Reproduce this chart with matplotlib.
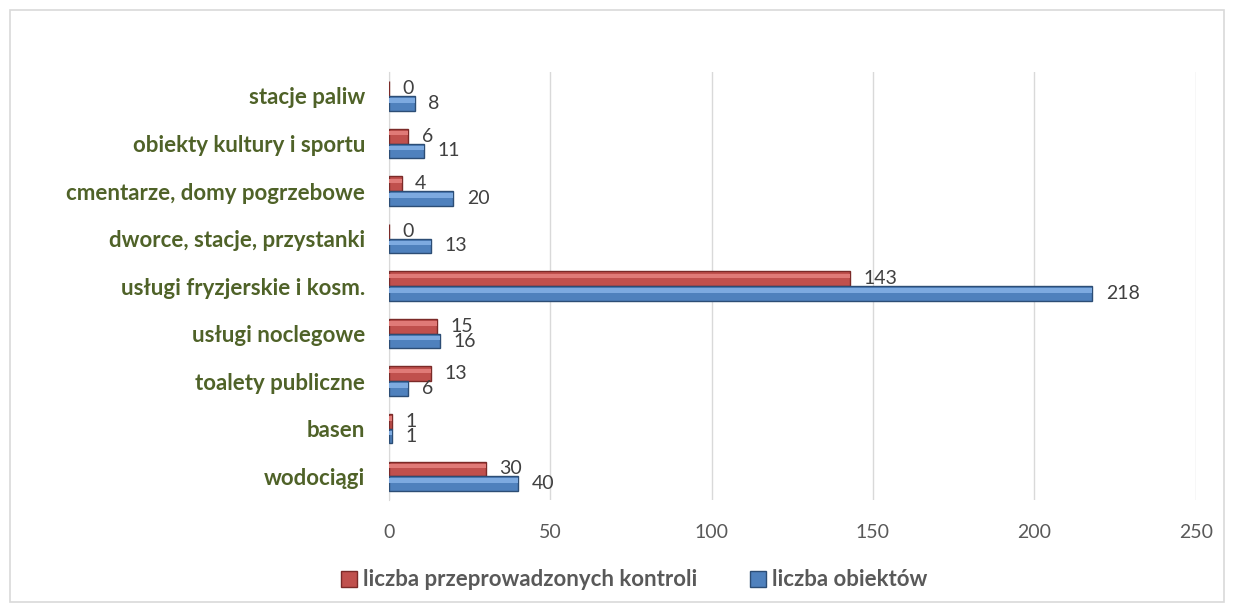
import matplotlib.pyplot as plt
import numpy as np
from matplotlib.patches import Rectangle

categories = ["wodociągi", "basen", "toalety publiczne", "usługi noclegowe",
              "usługi fryzjerskie i kosm.", "dworce, stacje, przystanki",
              "cmentarze, domy pogrzebowe", "obiekty kultury i sportu", "stacje paliw"]
kontrole = [30, 1, 13, 15, 143, 0, 4, 6, 0]
obiekty = [40, 1, 6, 16, 218, 13, 20, 11, 8]
xticks = [0, 50, 100, 150, 200, 250]
series_names = ["liczba przeprowadzonych kontroli", "liczba obiektów"]

plt.rcParams['font.family'] = ['Lato', 'DejaVu Sans']

fig = plt.figure(figsize=(12.34, 6.12), dpi=100)
renderer = fig.canvas.get_renderer()


def fit_size(text, target_px, weight="normal"):
    # font size that gives the wanted pixel width
    t = fig.text(0, 0, text, fontsize=10, fontweight=weight)
    w = t.get_window_extent(renderer).width
    t.remove()
    return 10 * target_px / w


legend_fs = fit_size(series_names[0], 334, "bold")
tick_fs = fit_size("250", 34)
value_fs = fit_size("218", 34)
cat_fs = legend_fs

ax = fig.add_axes([0.315, 0.183, 0.654, 0.699])

y = np.arange(len(categories))
h = 0.31


def bevel_bars(ypos, vals, face, light, dark):
    ax.barh(ypos, vals, height=h, color=face, edgecolor=dark, linewidth=1.0, zorder=3)
    # lighter strip on top to imitate the bevel
    ax.barh(ypos + h * 0.2, vals, height=h * 0.3, color=light, linewidth=0, zorder=4)


bevel_bars(y + h / 2, kontrole, "#C0504D", "#E07A77", "#7B2A28")
bevel_bars(y - h / 2, obiekty, "#4F81BD", "#7DAAE0", "#2C4D75")

for yi, v in zip(y, kontrole):
    ax.text(v + 4.2, yi + h / 2, str(v), va="center", ha="left", fontsize=value_fs, color="#404040")
for yi, v in zip(y, obiekty):
    ax.text(v + 4.2, yi - h / 2, str(v), va="center", ha="left", fontsize=value_fs, color="#404040")

ax.set_xlim(0, 250)
ax.set_ylim(-0.5, len(categories) - 0.5)
ax.set_xticks(xticks)
ax.set_xticklabels([str(t) for t in xticks], fontsize=tick_fs, color="#595959")
ax.set_yticks(y)
ax.set_yticklabels(categories, fontsize=cat_fs, fontweight="bold", color="#4F6228")
ax.tick_params(axis="both", length=0)
ax.tick_params(axis="x", pad=17)
ax.tick_params(axis="y", pad=17)
ax.grid(axis="x", color="#D9D9D9", linewidth=1.0, zorder=0)
for s in ["top", "right", "bottom"]:
    ax.spines[s].set_visible(False)
ax.spines["left"].set_color("#D9D9D9")

# legend
handles = [Rectangle((0, 0), 1, 1, facecolor="#C0504D", edgecolor="#7B2A28"),
           Rectangle((0, 0), 1, 1, facecolor="#4F81BD", edgecolor="#2C4D75")]
leg = fig.legend(handles, series_names,
                 loc="center", bbox_to_anchor=(634 / 1234, 1 - 580 / 612), ncol=2, frameon=False,
                 handlelength=0.72, handleheight=0.72, handletextpad=0.25, columnspacing=2.4,
                 prop={"size": legend_fs, "weight": "bold"})
for t in leg.get_texts():
    t.set_color("#595959")
    t.set_fontweight("bold")

# chart border
fig.patches.append(Rectangle((10 / 1234, 10 / 612), 1214 / 1234, 592 / 612,
                             transform=fig.transFigure, fill=False,
                             edgecolor="#D9D9D9", linewidth=1.2))

fig.savefig("out.png", dpi=100)
